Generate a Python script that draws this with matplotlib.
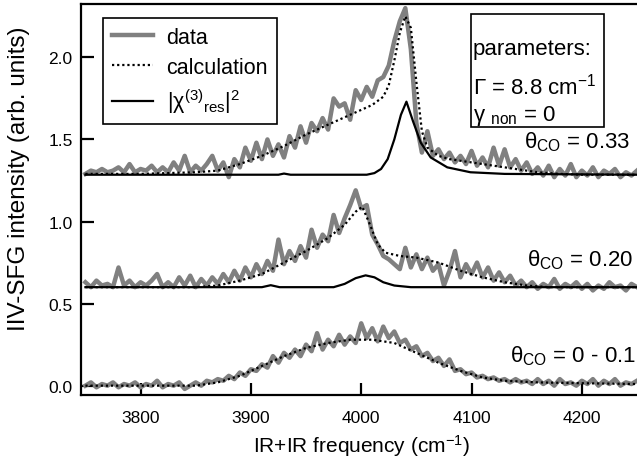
import numpy as np
import matplotlib
matplotlib.use("Agg")
import matplotlib.pyplot as plt
from matplotlib.patches import Rectangle

plt.rcParams['font.family'] = ['Liberation Sans', 'DejaVu Sans']
plt.rcParams['mathtext.fontset'] = 'custom'
plt.rcParams['mathtext.rm'] = 'Liberation Sans'
plt.rcParams['mathtext.it'] = 'Liberation Sans:italic'
plt.rcParams['mathtext.bf'] = 'Liberation Sans:bold'

# ---------------- data ----------------
freq = np.arange(3750, 4251, 5)

data_033 = [1.29, 1.31, 1.30, 1.32, 1.30, 1.31, 1.33, 1.30, 1.35, 1.30,
            1.32, 1.31, 1.34, 1.30, 1.33, 1.30, 1.36, 1.31, 1.40, 1.30,
            1.34, 1.31, 1.35, 1.40, 1.31, 1.36, 1.27, 1.38, 1.33, 1.45,
            1.37, 1.48, 1.38, 1.50, 1.40, 1.47, 1.39, 1.52, 1.45, 1.58,
            1.48, 1.60, 1.55, 1.63, 1.56, 1.75, 1.70, 1.72, 1.62, 1.80,
            1.74, 1.82, 1.76, 1.86, 1.88, 1.95, 2.10, 2.22, 2.30, 2.05,
            1.60, 1.42, 1.55, 1.40, 1.44, 1.38, 1.42, 1.36, 1.40, 1.35,
            1.43, 1.34, 1.39, 1.33, 1.45, 1.34, 1.44, 1.33, 1.38, 1.31,
            1.36, 1.29, 1.33, 1.28, 1.34, 1.27, 1.32, 1.28, 1.35, 1.27,
            1.31, 1.28, 1.33, 1.27, 1.31, 1.29, 1.32, 1.27, 1.30, 1.28,
            1.31]

data_020 = [0.63, 0.60, 0.64, 0.61, 0.62, 0.60, 0.72, 0.61, 0.64, 0.60,
            0.63, 0.61, 0.64, 0.68, 0.60, 0.63, 0.60, 0.66, 0.61, 0.67,
            0.60, 0.65, 0.61, 0.66, 0.62, 0.68, 0.63, 0.70, 0.64, 0.72,
            0.66, 0.74, 0.68, 0.76, 0.70, 0.89, 0.74, 0.82, 0.76, 0.85,
            0.78, 0.95, 0.84, 0.92, 0.88, 1.04, 0.93, 1.02, 1.10, 1.19,
            1.08, 1.10, 0.92, 0.86, 0.79, 0.77, 0.74, 0.71, 0.84, 0.72,
            0.80, 0.71, 0.78, 0.70, 0.74, 0.61, 0.70, 0.82, 0.66, 0.74,
            0.68, 0.75, 0.66, 0.72, 0.64, 0.69, 0.63, 0.67, 0.61, 0.64,
            0.60, 0.63, 0.59, 0.62, 0.60, 0.65, 0.59, 0.62, 0.60, 0.63,
            0.59, 0.62, 0.58, 0.61, 0.59, 0.63, 0.60, 0.61, 0.58, 0.62,
            0.60]

data_000 = [0.00, 0.02, -0.01, 0.01, 0.00, 0.02, -0.01, 0.01, 0.00, 0.02,
            -0.01, 0.01, 0.00, 0.03, -0.01, 0.01, 0.00, 0.02, -0.02, 0.00,
            0.02, 0.00, 0.03, 0.02, 0.04, 0.03, 0.06, 0.04, 0.08, 0.06,
            0.10, 0.09, 0.13, 0.11, 0.18, 0.14, 0.20, 0.17, 0.22, 0.18,
            0.25, 0.21, 0.32, 0.22, 0.28, 0.24, 0.31, 0.25, 0.30, 0.26,
            0.38, 0.29, 0.35, 0.27, 0.36, 0.29, 0.33, 0.26, 0.28, 0.22,
            0.24, 0.18, 0.20, 0.15, 0.17, 0.12, 0.16, 0.09, 0.10, 0.07,
            0.08, 0.05, 0.06, 0.04, 0.05, 0.03, 0.04, 0.02, 0.04, 0.02,
            0.03, 0.01, 0.04, 0.01, 0.03, 0.00, 0.04, 0.01, 0.02, 0.00,
            0.03, 0.01, 0.04, 0.00, 0.03, 0.01, 0.04, 0.00, 0.02, 0.01,
            0.03]

calc_033_f = [3750, 3800, 3850, 3870, 3890, 3910, 3930, 3950, 3970, 3990,
              4010, 4020, 4025, 4030, 4035, 4040, 4045, 4050, 4055, 4060,
              4070, 4080, 4090, 4100, 4110, 4120, 4130, 4140, 4150, 4160,
              4180, 4200, 4250]
calc_033 = [1.29, 1.29, 1.30, 1.31, 1.35, 1.40, 1.46, 1.53, 1.59, 1.65,
            1.71, 1.76, 1.83, 1.98, 2.15, 2.25, 2.18, 1.85, 1.55, 1.45,
            1.40, 1.38, 1.37, 1.36, 1.35, 1.34, 1.33, 1.32, 1.31, 1.30,
            1.29, 1.285, 1.285]

calc_020_f = [3750, 3850, 3870, 3890, 3910, 3930, 3950, 3970, 3985, 3995,
              4001, 4008, 4015, 4022, 4035, 4050, 4070, 4090, 4110, 4130,
              4150, 4170, 4250]
calc_020 = [0.60, 0.60, 0.61, 0.64, 0.68, 0.75, 0.82, 0.90, 0.98, 1.06,
            1.09, 0.98, 0.86, 0.81, 0.79, 0.78, 0.75, 0.70, 0.66, 0.63,
            0.61, 0.60, 0.60]

calc_000_f = [3750, 3850, 3870, 3890, 3910, 3930, 3950, 3970, 3990, 4010,
              4030, 4050, 4070, 4090, 4110, 4130, 4160, 4200, 4250]
calc_000 = [0.00, 0.00, 0.02, 0.06, 0.12, 0.18, 0.23, 0.26, 0.28, 0.28,
            0.26, 0.20, 0.14, 0.09, 0.05, 0.03, 0.02, 0.015, 0.01]

chi_033_f = [3750, 3925, 3930, 3936, 4005, 4012, 4018, 4024, 4030, 4036,
             4041, 4047, 4054, 4063, 4078, 4099, 4130, 4250]
chi_033 = [1.285, 1.285, 1.292, 1.285, 1.285, 1.295, 1.32, 1.38, 1.50, 1.65,
           1.73, 1.61, 1.48, 1.39, 1.33, 1.30, 1.29, 1.285]

chi_020_f = [3750, 3910, 3918, 3926, 3975, 3985, 3995, 4004, 4012, 4020,
             4030, 4045, 4250]
chi_020 = [0.600, 0.600, 0.612, 0.600, 0.600, 0.620, 0.655, 0.672, 0.660, 0.630,
           0.610, 0.600, 0.600]

coverage_labels = ["0.33", "0.20", "0 - 0.1"]
x_ticks = [3800, 3900, 4000, 4100, 4200]
y_ticks = [0.0, 0.5, 1.0, 1.5, 2.0]

# ---------------- figure ----------------
W, H = 637, 464
fig = plt.figure(figsize=(W / 100, H / 100), dpi=100)

def fx(px):
    return px / W

def fy(py):
    return 1 - py / H

ax_l, ax_r, ax_t, ax_b = 81, 637, 4.5, 395.7
ax = fig.add_axes([fx(ax_l), fy(ax_b), (ax_r - ax_l) / W, (ax_b - ax_t) / H])

gray = '#808080'
ax.plot(freq, data_033, color=gray, lw=3.2, solid_joinstyle='round', zorder=2, label='data')
ax.plot(freq, data_020, color=gray, lw=3.2, solid_joinstyle='round', zorder=2)
ax.plot(freq, data_000, color=gray, lw=3.2, solid_joinstyle='round', zorder=2)

ax.plot(calc_033_f, calc_033, color='black', lw=1.6, ls=(0, (1, 1.3)), zorder=3, label='calculation')
ax.plot(calc_020_f, calc_020, color='black', lw=1.6, ls=(0, (1, 1.3)), zorder=3)
ax.plot(calc_000_f, calc_000, color='black', lw=1.6, ls=(0, (1, 1.3)), zorder=3)

ax.plot(chi_033_f, chi_033, color='black', lw=1.6, zorder=4,
        label='|χ$^{(3)}$$_{\\rm res}$|$^{2}$')
ax.plot(chi_020_f, chi_020, color='black', lw=1.6, zorder=4)

ax.set_xlim(3746, 4250)
ax.set_ylim(-0.055, 2.328)
ax.set_xticks(x_ticks)
ax.set_xticklabels([str(t) for t in x_ticks])
ax.set_yticks(y_ticks)
ax.set_yticklabels([f"{t:.1f}" for t in y_ticks])

ax.spines['right'].set_visible(False)
for s in ['left', 'top', 'bottom']:
    ax.spines[s].set_linewidth(1.6)
ax.tick_params(axis='x', direction='in', length=9, width=1.6, labelsize=12.5, pad=11)
ax.tick_params(axis='y', direction='in', length=9.5, width=1.6, labelsize=12.5, pad=6)

# legend
leg = ax.legend(loc='upper left', bbox_to_anchor=(fx(103), fy(19)),
                bbox_transform=fig.transFigure, fontsize=15.5, frameon=True,
                fancybox=False, edgecolor='black', framealpha=1,
                borderaxespad=0, borderpad=0.4, handlelength=1.9,
                handletextpad=0.65, labelspacing=0.42)
leg.get_frame().set_linewidth(1.2)

# parameters box
fig.patches.append(Rectangle((fx(471), fy(128)), (604 - 471) / W, (128 - 15) / H,
                             transform=fig.transFigure, fill=False,
                             edgecolor='black', lw=1.2))
fig.text(fx(473), fy(55), "parameters:", fontsize=16, va='baseline', ha='left')
fig.text(fx(473), fy(95), "Γ = 8.8 cm$^{-1}$", fontsize=16, va='baseline', ha='left')
fig.text(fx(473), fy(121), "γ $_{\\rm non}$ = 0", fontsize=16, va='baseline', ha='left')

# coverage labels
for lab, xr, yb in zip(coverage_labels, [630, 633, 636], [148, 266, 362]):
    fig.text(fx(xr), fy(yb), "θ$_{\\rm CO}$ = " + lab, fontsize=16,
             va='baseline', ha='right')

# axis labels
fig.text(fx(362), fy(453), "IR+IR frequency (cm$^{-1}$)", fontsize=15,
         ha='center', va='baseline')
fig.text(fx(19), fy(179), "IIV-SFG intensity (arb. units)", fontsize=17.5,
         ha='center', va='center', rotation=90)

fig.savefig("out.png", dpi=100)
